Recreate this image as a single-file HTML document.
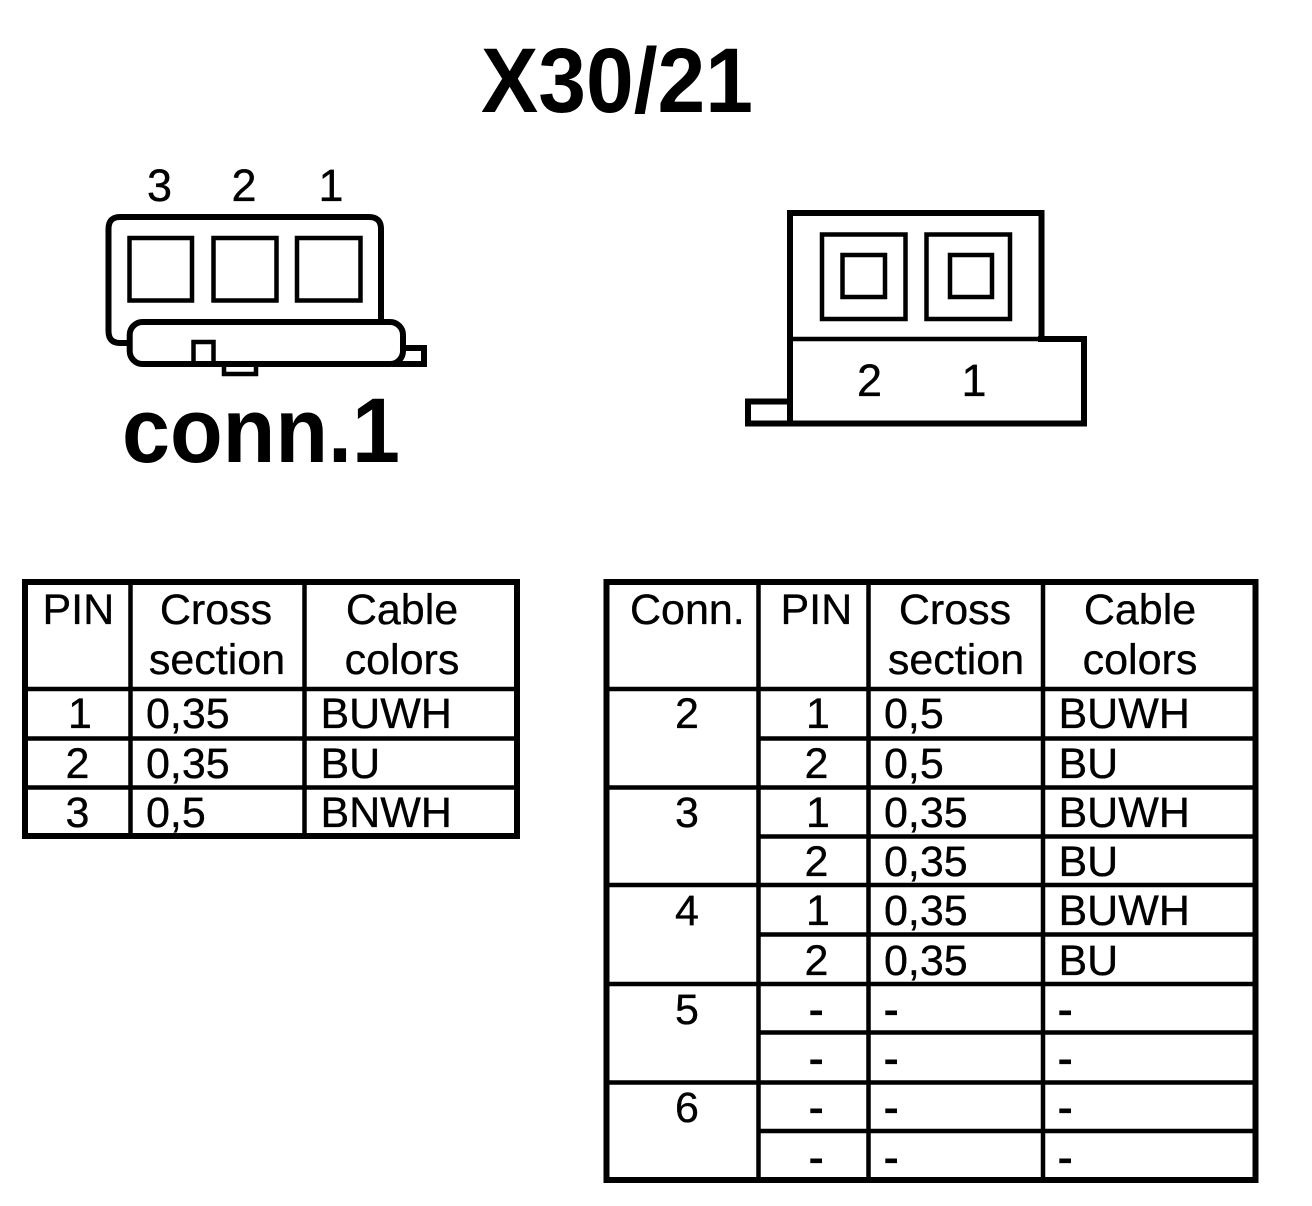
<!DOCTYPE html>
<html><head><meta charset="utf-8"><style>
html,body{margin:0;padding:0;background:#fff}
svg{display:block}
text{font-family:"Liberation Sans",Arial,sans-serif;fill:#000}
.t{font-size:43px;stroke:#000;stroke-width:.35px}
.n{font-size:45px;stroke:#000;stroke-width:.35px}
.d{font-size:43px;stroke:#000;stroke-width:1.2px}
.b{font-size:92px;font-weight:bold}
.m{text-anchor:middle}
.l{fill:none;stroke:#000;stroke-width:4.5}
.o{fill:none;stroke:#000;stroke-width:6}
</style></head><body>
<svg width="1312" height="1206" viewBox="0 0 1312 1206" xmlns="http://www.w3.org/2000/svg">
<rect width="1312" height="1206" fill="#fff"/>
<text class="b" x="481" y="112" textLength="272" lengthAdjust="spacingAndGlyphs">X30/21</text>
<text class="b" x="122" y="462" textLength="278" lengthAdjust="spacingAndGlyphs">conn.1</text>

<!-- left connector -->
<path class="o" d="M381 322V229Q381 217 369 217H120Q108.500 217 108.500 229V331Q108.500 343 120 343H130"/>
<rect class="l" x="129.500" y="238" width="62.500" height="62.500"/>
<rect class="l" x="213.500" y="238" width="63" height="62.500"/>
<rect class="l" x="297" y="238" width="63.500" height="62.500"/>
<rect class="o" x="129.700" y="322" width="273.300" height="42" rx="13" ry="13"/>
<path class="l" d="M193.500 364V342H213.500V364"/>
<path class="l" d="M224 366V374H256V366"/>
<path class="o" d="M403 348H424V364H392"/>
<text class="n" x="147" y="201">3</text>
<text class="n" x="231.500" y="201">2</text>
<text class="n" x="318.500" y="201">1</text>

<!-- right connector -->
<path class="o" d="M790 423.500V213H1041.500V339"/>
<path class="l" d="M790 339H1041"/>
<path class="o" d="M1038 339H1084V423.500H748V401.500H790"/>
<rect class="l" x="822" y="234.500" width="83.500" height="84.500"/>
<rect class="l" x="842.500" y="255" width="42.500" height="42"/>
<rect class="l" x="926.500" y="234.500" width="83.500" height="84.500"/>
<rect class="l" x="950" y="255" width="42" height="42"/>
<text class="n" x="857" y="396">2</text>
<text class="n" x="961.500" y="396">1</text>

<!-- left table -->
<rect class="o" x="25" y="582" width="492" height="254"/>
<path class="l" d="M130.500 582V836M304.500 582V836M25 689H517M25 738.500H517M25 787.500H517"/>
<text class="t" x="42.500" y="624">PIN</text>
<text class="t m" x="216" y="624">Cross</text>
<text class="t m" x="217" y="674">section</text>
<text class="t m" x="402" y="624">Cable</text>
<text class="t m" x="402" y="674">colors</text>
<text class="t" x="68" y="728">1</text><text class="t" x="146" y="728">0,35</text><text class="t" x="320.500" y="728">BUWH</text>
<text class="t" x="65.500" y="778">2</text><text class="t" x="146" y="778">0,35</text><text class="t" x="320.500" y="778">BU</text>
<text class="t" x="65.500" y="827">3</text><text class="t" x="146" y="827">0,5</text><text class="t" x="320.500" y="827">BNWH</text>

<!-- right table -->
<rect class="o" x="606.500" y="582" width="649" height="598"/>
<path class="l" d="M758.500 582V1180M868.500 582V1180M1043 582V1180M606.500 689H1255M606.500 787.500H1255M606.500 885H1255M606.500 984H1255M606.500 1082.500H1255M758.500 738.500H1255M758.500 836.500H1255M758.500 934.500H1255M758.500 1032.500H1255M758.500 1131H1255"/>
<text class="t" x="630" y="624">Conn.</text>
<text class="t" x="780.500" y="624">PIN</text>
<text class="t m" x="955" y="624">Cross</text>
<text class="t m" x="956" y="674">section</text>
<text class="t m" x="1140" y="624">Cable</text>
<text class="t m" x="1140" y="674">colors</text>
<text class="t" x="675" y="728">2</text>
<text class="t" x="675" y="827">3</text>
<text class="t" x="675" y="925">4</text>
<text class="t" x="675" y="1024">5</text>
<text class="t" x="675" y="1122">6</text>
<text class="t" x="806" y="728">1</text><text class="t" x="884" y="728">0,5</text><text class="t" x="1058.500" y="728">BUWH</text>
<text class="t" x="804.500" y="778">2</text><text class="t" x="884" y="778">0,5</text><text class="t" x="1058.500" y="778">BU</text>
<text class="t" x="806" y="827">1</text><text class="t" x="884" y="827">0,35</text><text class="t" x="1058.500" y="827">BUWH</text>
<text class="t" x="804.500" y="876">2</text><text class="t" x="884" y="876">0,35</text><text class="t" x="1058.500" y="876">BU</text>
<text class="t" x="806" y="925">1</text><text class="t" x="884" y="925">0,35</text><text class="t" x="1058.500" y="925">BUWH</text>
<text class="t" x="804.500" y="975">2</text><text class="t" x="884" y="975">0,35</text><text class="t" x="1058.500" y="975">BU</text>
<text class="d" x="809" y="1024">-</text><text class="d" x="884" y="1024">-</text><text class="d" x="1058" y="1024">-</text>
<text class="d" x="809" y="1073">-</text><text class="d" x="884" y="1073">-</text><text class="d" x="1058" y="1073">-</text>
<text class="d" x="809" y="1122">-</text><text class="d" x="884" y="1122">-</text><text class="d" x="1058" y="1122">-</text>
<text class="d" x="809" y="1172">-</text><text class="d" x="884" y="1172">-</text><text class="d" x="1058" y="1172">-</text>
</svg>
</body></html>
